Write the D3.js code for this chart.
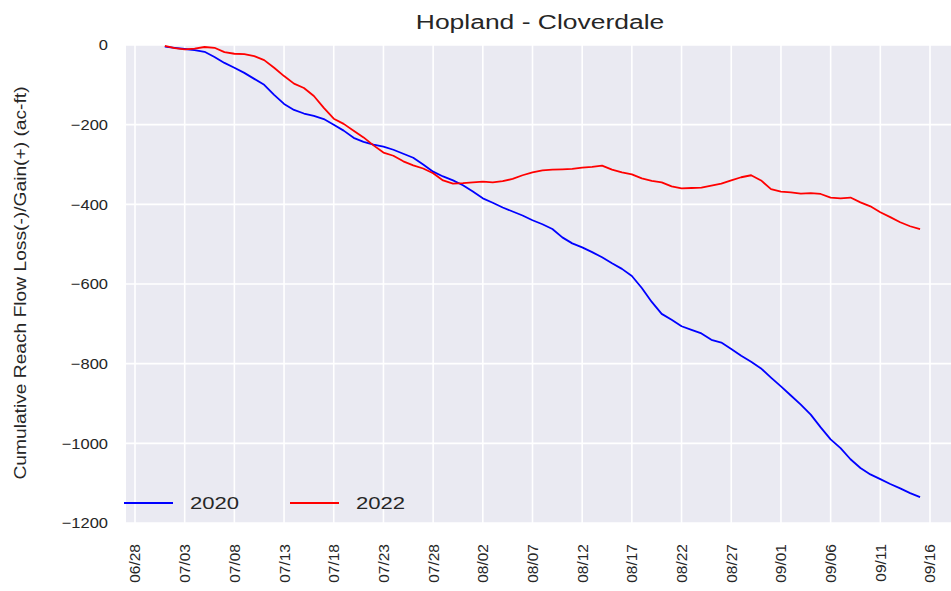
<!DOCTYPE html>
<meta charset="utf-8">
<script src="https://d3js.org/d3.v7.min.js"></script>
<style>
  body { margin: 0; background: #fff; }
  text { font-family: "Liberation Sans", Arial, sans-serif; fill: #262626; }
</style>
<div id="chart"></div>
<script>

// dates shared by both years (month/day)
var days = ["07/01","07/02","07/03","07/04","07/05","07/06","07/07","07/08","07/09","07/10",
  "07/11","07/12","07/13","07/14","07/15","07/16","07/17","07/18","07/19","07/20",
  "07/21","07/22","07/23","07/24","07/25","07/26","07/27","07/28","07/29","07/30","07/31",
  "08/01","08/02","08/03","08/04","08/05","08/06","08/07","08/08","08/09","08/10",
  "08/11","08/12","08/13","08/14","08/15","08/16","08/17","08/18","08/19","08/20",
  "08/21","08/22","08/23","08/24","08/25","08/26","08/27","08/28","08/29","08/30","08/31",
  "09/01","09/02","09/03","09/04","09/05","09/06","09/07","09/08","09/09","09/10",
  "09/11","09/12","09/13","09/14","09/15"];

var values2020 = [-4,-7,-10,-13,-17,-30,-45,-57,-70,-85,
  -100,-125,-148,-163,-172,-178,-186,-200,-215,-233,
  -243,-250,-255,-263,-273,-283,-300,-318,-330,-340,-352,
  -368,-385,-396,-408,-418,-428,-440,-450,-462,-483,
  -498,-508,-520,-533,-548,-562,-580,-610,-645,-675,
  -690,-706,-715,-724,-740,-747,-763,-780,-795,-812,-835,
  -857,-880,-903,-928,-960,-990,-1012,-1040,-1062,-1078,
  -1090,-1102,-1113,-1125,-1135];

var values2022 = [-2,-8,-11,-9,-5,-7,-18,-22,-23,-28,
  -38,-57,-78,-97,-108,-128,-158,-185,-198,-215,
  -232,-252,-270,-278,-292,-302,-310,-322,-340,-348,-347,
  -345,-343,-345,-342,-336,-327,-320,-315,-313,-312,
  -311,-308,-306,-303,-313,-320,-325,-335,-341,-345,
  -355,-360,-359,-358,-353,-348,-340,-332,-327,-340,-362,
  -368,-370,-373,-372,-374,-383,-385,-383,-395,-405,
  -420,-432,-445,-455,-462];

var seriesNames = ["2020", "2022"];
var seriesColors = ["#0000ff", "#ff0000"];

var xTickLabels = ["06/28","07/03","07/08","07/13","07/18","07/23","07/28","08/02","08/07",
  "08/12","08/17","08/22","08/27","09/01","09/06","09/11","09/16"];
var yTicks = [0, -200, -400, -600, -800, -1000, -1200];

var W = 951, H = 591;
var plot = {left: 126, right: 951, top: 45, bottom: 523};

var parse = function(s) { return d3.timeParse("%Y/%m/%d")("2022/" + s); };

var svg = d3.select("#chart").append("svg")
  .attr("width", W).attr("height", H);

var x = d3.scaleTime()
  .domain([parse("06/28"), parse("09/16")])
  .range([135, 930]);

var y = d3.scaleLinear()
  .domain([-1200, 0])
  .range([523, 45]);

// background
svg.append("rect")
  .attr("x", plot.left).attr("y", plot.top)
  .attr("width", plot.right - plot.left)
  .attr("height", plot.bottom - plot.top)
  .attr("fill", "#eaeaf2");

// grid
svg.append("g").selectAll("line.vg")
  .data(xTickLabels)
  .enter().append("line")
    .attr("x1", function(d) { return x(parse(d)); })
    .attr("x2", function(d) { return x(parse(d)); })
    .attr("y1", plot.top).attr("y2", plot.bottom)
    .attr("stroke", "#fff").attr("stroke-width", 1.6);

svg.append("g").selectAll("line.hg")
  .data(yTicks)
  .enter().append("line")
    .attr("x1", plot.left).attr("x2", plot.right)
    .attr("y1", function(d) { return y(d); })
    .attr("y2", function(d) { return y(d); })
    .attr("stroke", "#fff").attr("stroke-width", 1.6);

// y tick labels
svg.append("g").selectAll("text")
  .data(yTicks)
  .enter().append("text")
    .attr("text-anchor", "end")
    .attr("dy", "0.35em")
    .attr("transform", function(d) { return "translate(108," + y(d) + ") scale(1.1,1)"; })
    .style("font-size", "15px")
    .text(function(d) { return d < 0 ? "\u2212" + Math.abs(d) : d; });

// x tick labels
svg.append("g").selectAll("text")
  .data(xTickLabels)
  .enter().append("text")
    .attr("text-anchor", "end")
    .attr("dy", "0.35em")
    .attr("transform", function(d) { return "translate(" + x(parse(d)) + ",544) rotate(-90)"; })
    .style("font-size", "15.5px")
    .text(function(d) { return d; });

// y axis label
svg.append("text")
  .attr("text-anchor", "middle")
  .attr("transform", "translate(26,283) rotate(-90) scale(1.13,1)")
  .style("font-size", "17px")
  .text("Cumulative Reach Flow Loss(-)/Gain(+) (ac-ft)");

// title
svg.append("text")
  .attr("text-anchor", "middle")
  .attr("transform", "translate(540,29) scale(1.26,1)")
  .style("font-size", "21px")
  .text("Hopland - Cloverdale");

// lines
var line = d3.line()
  .x(function(d) { return x(parse(d[0])); })
  .y(function(d) { return y(d[1]); })
  .curve(d3.curveLinear);

[values2020, values2022].forEach(function(vals, i) {
  svg.append("path")
    .datum(days.map(function(d, j) { return [d, vals[j]]; }))
    .attr("fill", "none")
    .attr("stroke", seriesColors[i])
    .attr("stroke-width", 1.8)
    .attr("stroke-linejoin", "round")
    .attr("d", line);
});

// legend
var legendX = [124, 290];
seriesNames.forEach(function(name, i) {
  svg.append("line")
    .attr("x1", legendX[i]).attr("x2", legendX[i] + 49)
    .attr("y1", 503).attr("y2", 503)
    .attr("stroke", seriesColors[i]).attr("stroke-width", 2);
  svg.append("text")
    .attr("transform", "translate(" + (legendX[i] + 66) + ",503) scale(1.3,1)")
    .attr("dy", "0.35em")
    .style("font-size", "17px")
    .text(name);
});

</script>
